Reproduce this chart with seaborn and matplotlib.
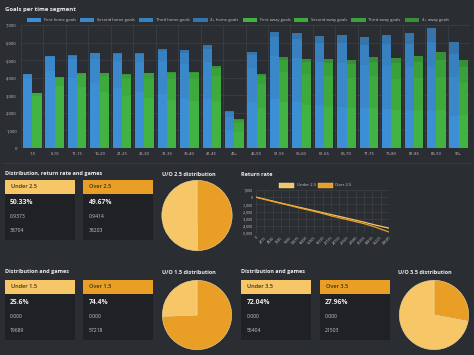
import numpy as np
import pandas as pd
import seaborn as sns
import matplotlib.pyplot as plt
from matplotlib.patches import Rectangle, Patch

# ---- data ----
segments = ["1-5", "6-10", "11-15", "16-20", "21-25", "26-30", "31-35", "36-40", "41-45", "45+",
            "46-50", "51-55", "56-60", "61-65", "66-70", "71-75", "76-80", "81-85", "86-90", "90+"]

home_first = [3900, 4400, 4000, 3700, 3400, 3200, 3100, 2850, 2800, 1000,
              2600, 2800, 2600, 2450, 2350, 2250, 2200, 2150, 2100, 1800]
home_second = [290, 760, 1050, 1350, 1550, 1700, 1850, 1950, 2100, 750,
               1950, 2450, 2500, 2450, 2500, 2450, 2450, 2450, 2500, 2250]
home_third = [25, 80, 190, 330, 390, 450, 590, 620, 760, 280,
              720, 1050, 1100, 1100, 1150, 1150, 1250, 1300, 1450, 1300]
home_4plus = [5, 10, 30, 40, 60, 70, 110, 130, 200, 70,
              170, 320, 350, 390, 450, 470, 550, 630, 800, 680]

away_first = [2950, 3550, 3450, 3200, 2950, 2850, 2750, 2650, 2700, 900,
              2300, 2600, 2450, 2350, 2250, 2250, 2150, 2150, 2150, 1900]
away_second = [180, 440, 700, 900, 1000, 1100, 1200, 1250, 1400, 520,
               1350, 1750, 1750, 1750, 1750, 1850, 1800, 1850, 1900, 1800]
away_third = [15, 35, 95, 140, 220, 290, 330, 370, 480, 180,
              440, 670, 700, 740, 780, 820, 860, 900, 980, 930]
away_4plus = [5, 5, 15, 20, 30, 40, 50, 60, 80, 40,
              110, 170, 180, 200, 240, 250, 320, 350, 430, 390]

rr_labels = ["0", "2415", "4830", "7245", "9660", "12075", "14490", "16905", "19320",
             "21735", "24150", "26565", "28980", "31395", "33810", "36225", "38640"]
under_rr = [0, -270, -540, -820, -1090, -1360, -1620, -1880, -2150, -2420,
            -2680, -2950, -3220, -3490, -3780, -4060, -4330]
over_rr = [0, -300, -600, -880, -1150, -1450, -1720, -1980, -2280, -2600,
           -2880, -3150, -3420, -3700, -4030, -4450, -4860]

u25 = ["Under 2.5", "50.33%", "0.9373", "38704"]
o25 = ["Over 2.5", "49.67%", "0.9414", "38203"]
u15 = ["Under 1.5", "25.6%", "0.000", "19689"]
o15 = ["Over 1.5", "74.4%", "0.000", "57218"]
u35 = ["Under 3.5", "72.04%", "0.000", "55404"]
o35 = ["Over 3.5", "27.96%", "0.000", "21503"]

pie25 = [49.67, 50.33]   # over, under
pie15 = [74.4, 25.6]
pie35 = [27.96, 72.04]

# ---- style ----
BG = "#2a2d32"
CARD = "#1f2125"
GRID = "#3d4046"
TXT = "#ececec"
SUB = "#c8c8c8"
YEL = "#f6c667"
ORA = "#e99e25"
home_cols = ["#3d8fd5", "#3a87c9", "#3781c1", "#3575ac"]
away_cols = ["#42b342", "#3eaa3e", "#3aa03a", "#378f37"]

sns.set_theme(style="dark")
plt.rcParams["font.family"] = ["Open Sans", "DejaVu Sans"]

W, H = 474, 355
fig = plt.figure(figsize=(4.74, 3.55), dpi=100, facecolor=BG)

bg = fig.add_axes([0, 0, 1, 1])
bg.set_xlim(0, W)
bg.set_ylim(H, 0)
bg.axis("off")


def px_axes(l, t, r, b):
    a = fig.add_axes([l / W, 1 - b / H, (r - l) / W, (b - t) / H])
    a.set_facecolor("none")
    return a


# ---- goals per time segment ----
bg.text(5, 9, "Goals per time segment", color=TXT, fontsize=4.3, fontweight="bold", va="center")

ax = px_axes(21, 25, 470, 148)
layers_home = np.cumsum([home_first, home_second, home_third, home_4plus], axis=0)
layers_away = np.cumsum([away_first, away_second, away_third, away_4plus], axis=0)
for k in range(3, -1, -1):
    df = pd.DataFrame({
        "segment": segments * 2,
        "goals": list(layers_home[k]) + list(layers_away[k]),
        "side": ["Home"] * len(segments) + ["Away"] * len(segments),
    })
    sns.barplot(data=df, x="segment", y="goals", hue="side", order=segments,
                hue_order=["Home", "Away"], palette={"Home": home_cols[k], "Away": away_cols[k]},
                width=0.83, saturation=1, linewidth=0, legend=False, ax=ax)

ax.set_xlim(-0.5, len(segments) - 0.5)
ax.set_ylim(0, 7000)
ax.set_yticks(range(0, 7001, 1000))
ax.set_yticklabels([f"{v:,}" for v in range(0, 7001, 1000)])
ax.set_xticks(np.arange(-0.5, len(segments), 1), minor=True)
ax.grid(False)
ax.grid(which="minor", axis="x", color=GRID, lw=0.5)
ax.grid(which="major", axis="y", color=GRID, lw=0.5)
ax.set_axisbelow(True)
ax.tick_params(which="both", length=0, colors=SUB, labelsize=3.0, pad=3)
ax.set_xlabel("")
ax.set_ylabel("")
for s in ax.spines.values():
    s.set_visible(False)

labels = ["First home goals", "Second home goals", "Third home goals", "4+ home goals",
          "First away goals", "Second away goals", "Third away goals", "4+ away goals"]
handles = [Patch(facecolor=c, edgecolor="none") for c in home_cols + away_cols]
fig.legend(handles, labels, loc="center", bbox_to_anchor=(238 / W, 1 - 20 / H), ncol=8,
           frameon=False, fontsize=3.0, labelcolor=SUB, handlelength=3.4, handleheight=1.0,
           columnspacing=0.9, handletextpad=0.7)

# ---- separators ----
bg.plot([3, 471], [162.5, 162.5], color="#393c41", lw=0.6)


# ---- cards ----
def card(x, top, info, color, w=70):
    bg.add_patch(Rectangle((x, top), w, 14, facecolor=color, edgecolor="none"))
    bg.add_patch(Rectangle((x, top + 14), w, 46, facecolor=CARD, edgecolor="none"))
    bg.text(x + 6, top + 7, info[0], color="#3b2f18", fontsize=4.0, va="center", fontweight="semibold")
    bg.text(x + 5, top + 23, info[1], color=TXT, fontsize=4.9, va="center", fontweight="bold")
    bg.text(x + 5, top + 37, info[2], color=SUB, fontsize=3.6, va="center")
    bg.text(x + 5, top + 51, info[3], color=SUB, fontsize=3.6, va="center")


def pie(cx, cy, r, vals):
    pa = px_axes(cx - r, cy - r, cx + r, cy + r)
    pa.pie(vals, colors=[ORA, YEL], startangle=90, counterclock=False,
           wedgeprops={"edgecolor": "#f3d9a0", "linewidth": 0.4})
    pa.set_xlim(-1.01, 1.01)
    pa.set_ylim(-1.01, 1.01)


bg.text(5, 174, "Distribution, return rate and games", color=TXT, fontsize=4.0, fontweight="bold", va="center")
card(5, 180, u25, YEL)
card(83.5, 180, o25, ORA)
bg.text(162, 174, "U/O 2.5 distribution", color=TXT, fontsize=4.0, fontweight="bold", va="center")
pie(197, 215.5, 35.5, pie25)

bg.text(5, 272, "Distribution and games", color=TXT, fontsize=4.0, fontweight="bold", va="center")
card(5, 280, u15, YEL)
card(83.5, 280, o15, ORA)
bg.text(162, 272, "U/O 1.5 distribution", color=TXT, fontsize=4.0, fontweight="bold", va="center")
pie(197, 315, 35, pie15)

bg.text(241.5, 272, "Distribution and games", color=TXT, fontsize=4.0, fontweight="bold", va="center")
card(241.5, 280, u35, YEL)
card(320, 280, o35, ORA)
bg.text(398, 272, "U/O 3.5 distribution", color=TXT, fontsize=4.0, fontweight="bold", va="center")
pie(434, 315, 35, pie35)

# ---- return rate ----
bg.text(241.5, 174, "Return rate", color=TXT, fontsize=4.0, fontweight="bold", va="center")
bg.add_patch(Rectangle((279.5, 183.3), 15, 4.5, facecolor=YEL, edgecolor="#f9dc9a", lw=0.3))
bg.text(297, 185.5, "Under 2.5", color=SUB, fontsize=3.0, va="center")
bg.add_patch(Rectangle((318, 183.3), 15, 4.5, facecolor=ORA, edgecolor="#f0b95a", lw=0.3))
bg.text(335.5, 185.5, "Over 2.5", color=SUB, fontsize=3.0, va="center")

rx = px_axes(256, 190, 389, 233)
idx = list(range(len(rr_labels)))
sns.lineplot(x=idx, y=under_rr, color=YEL, lw=0.9, ax=rx)
sns.lineplot(x=idx, y=over_rr, color=ORA, lw=0.9, ax=rx)
rx.set_xlim(0, len(rr_labels) - 1)
rx.set_ylim(-5000, 1000)
rx.set_yticks(range(-5000, 1001, 1000))
rx.set_yticklabels([f"{v:,}" for v in range(-5000, 1001, 1000)])
rx.set_xticks(idx)
rx.set_xticklabels(rr_labels, rotation=45, ha="right", rotation_mode="anchor")
rx.grid(True, color=GRID, lw=0.5)
rx.tick_params(length=0, colors=SUB, labelsize=2.6, pad=2)
for s in rx.spines.values():
    s.set_visible(False)

fig.savefig("out.png", dpi=100, facecolor=BG)
